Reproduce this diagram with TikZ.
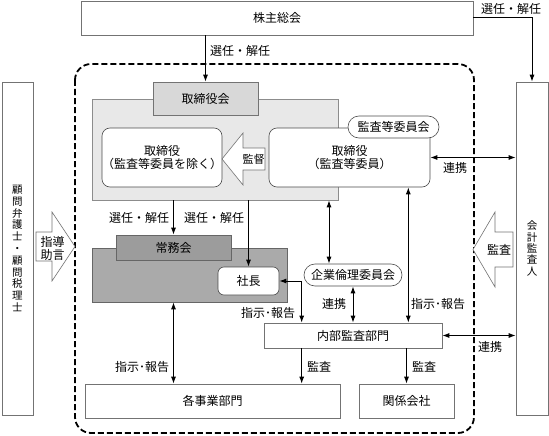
\documentclass[tikz,border=0pt]{standalone}
\usepackage{fontspec}
\setmainfont{Noto Sans CJK JP}
\usetikzlibrary{arrows.meta}
\definecolor{torilight}{HTML}{E8E8E8}
\definecolor{toritab}{HTML}{D8D8D8}
\definecolor{jomudark}{HTML}{AAAAAA}
\definecolor{jomutab}{HTML}{9C9C9C}
\begin{document}
\begin{tikzpicture}[x=1pt,y=-1pt]
\tikzset{box/.style={draw=black!55, line width=0.6pt, fill=white, inner sep=0pt, align=center, font=\fontsize{12}{13}\selectfont}}
\tikzset{rbox/.style={box, draw=black!70, rounded corners=8pt}}
\tikzset{pill/.style={box, draw=black!70, rounded corners=11pt}}
\tikzset{lbl/.style={inner sep=0pt, align=center, font=\fontsize{12}{13}\selectfont}}
\tikzset{arr/.style={line width=1pt, -{Latex[length=7pt,width=5pt]}}}
\tikzset{dbl/.style={line width=1pt, {Latex[length=7pt,width=5pt]}-{Latex[length=7pt,width=5pt]}}}
\tikzset{bigarrow/.style={draw=black!55, line width=0.6pt, fill=white}}
\useasboundingbox (0,0) rectangle (549,436);
\draw[line width=1.8pt, dash pattern=on 6pt off 3pt, rounded corners=16pt] (75,64) rectangle (474,433);
\node[box, minimum width=392pt, minimum height=34pt] (kabunushi) at (277,18) {株主総会};
\node[box, minimum width=31pt, minimum height=333pt, font=\fontsize{10.5}{11.8}\selectfont] (komon) at (17.5,248.5) {顧\\問\\弁\\護\\士\\・\\顧\\問\\税\\理\\士};
\node[box, minimum width=32pt, minimum height=333pt, font=\fontsize{10.5}{11.3}\selectfont] (kaikei) at (532,248.5) {会\\計\\監\\査\\人};
\node[box, draw=black!45, fill=torilight, minimum width=246pt, minimum height=101pt] (torigrp) at (215,149.5) {};
\node[box, fill=toritab, minimum width=105pt, minimum height=33pt] (torikai) at (205.5,98.5) {取締役会};
\node[rbox, minimum width=118pt, minimum height=59pt] (tori1) at (162,157.5) {取締役\\（監査等委員を除く）};
\node[rbox, minimum width=161pt, minimum height=59pt] (tori2) at (349.5,157.5) {取締役\\（監査等委員）};
\node[pill, minimum width=91pt, minimum height=22pt] (kansaiin) at (393.5,127) {監査等委員会};
\draw[bigarrow] (265,148) -- (243,148) -- (243,133) -- (222,159) -- (243,185) -- (243,170) -- (265,170) -- cycle;
\node[lbl, font=\fontsize{11}{12}\selectfont] (kantoku) at (253.5,159) {監督};
\node[box, draw=black!60, fill=jomudark, minimum width=195pt, minimum height=54pt] (jomugrp) at (189.5,275) {};
\node[box, draw=black!60, fill=jomutab, minimum width=115pt, minimum height=25pt] (jomukai) at (173.5,247.5) {常務会};
\node[rbox, rounded corners=6pt, minimum width=61pt, minimum height=28pt] (shacho) at (248.5,281) {社長};
\node[pill, minimum width=98pt, minimum height=22pt] (rinri) at (353,275) {企業倫理委員会};
\node[box, minimum width=178pt, minimum height=25pt] (naibu) at (353,335.5) {内部監査部門};
\node[box, minimum width=255pt, minimum height=34pt] (kakujigyo) at (212.5,401) {各事業部門};
\node[box, minimum width=95pt, minimum height=34pt] (kankei) at (406.5,401) {関係会社};
\draw[bigarrow] (36,232) -- (52,232) -- (52,212) -- (75,246.5) -- (52,281) -- (52,261) -- (36,261) -- cycle;
\node[lbl] (shido) at (52.5,248.5) {指導\\助言};
\draw[bigarrow] (513,232) -- (495,232) -- (495,212) -- (473,249.5) -- (495,287) -- (495,267) -- (513,267) -- cycle;
\node[lbl] (kansa1) at (499,250) {監査};
\coordinate (ethtop) at ([xshift=-24pt]rinri.north);
\coordinate (shijitop) at ([xshift=-22pt]tori2.south east);
\coordinate (shachoend) at ([xshift=38pt]naibu.north west);
\coordinate (kansaend) at ([xshift=38pt]naibu.south west);
\draw[arr] (torikai.north |- kabunushi.south) -- (torikai.north);
\node[lbl] (senin1) at (240,51) {選任・解任};
\draw[arr] (kabunushi.east) -| (kaikei.north);
\node[lbl] (senin2) at (511,9) {選任・解任};
\draw[dbl] (tori2.east) -- (tori2.east -| kaikei.west);
\node[lbl] (renkei1) at (455,168) {連携};
\draw[arr] (jomukai.north |- torigrp.south) -- (jomukai.north);
\node[lbl] (senin3) at (139,218) {選任・解任};
\draw[arr] (shacho.north |- torigrp.south) -- (shacho.north);
\node[lbl] (senin4) at (214,218) {選任・解任};
\draw[dbl] (ethtop |- torigrp.south) -- (ethtop);
\draw[dbl] (rinri.south) -- (rinri.south |- naibu.north);
\node[lbl] (renkei2) at (334,304) {連携};
\draw[dbl] (shijitop) -- (shijitop |- naibu.north);
\node[lbl] (shiji1) at (438,304) {指示･報告};
\draw[dbl] (shacho.east) -| (shachoend);
\node[lbl] (shiji2) at (268,313) {指示･報告};
\draw[dbl] (jomukai.north |- jomugrp.south) -- (jomukai.north |- kakujigyo.north);
\node[lbl] (shiji3) at (142,367) {指示･報告};
\draw[dbl] (naibu.east) -- (naibu.east -| kaikei.west);
\node[lbl] (renkei3) at (490,347) {連携};
\draw[arr] (kansaend) -- (kansaend |- kakujigyo.north);
\node[lbl] (kansa2) at (319,367) {監査};
\draw[arr] (kankei.north |- naibu.south) -- (kankei.north);
\node[lbl] (kansa3) at (424,367) {監査};
\end{tikzpicture}
\end{document}
